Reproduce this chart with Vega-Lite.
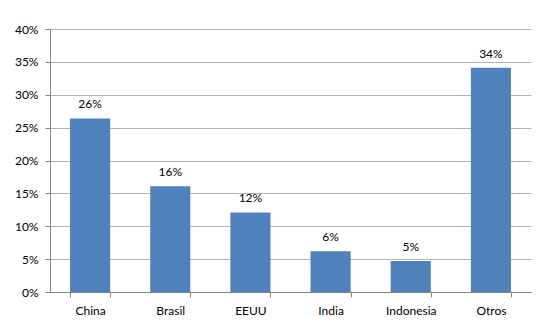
{
  "$schema": "https://vega.github.io/schema/vega-lite/v6.json",
  "width": 481,
  "height": 263,
  "autosize": "none",
  "padding": {"left": 50, "top": 29, "right": 7, "bottom": 30},
  "background": "white",
  "data": {
    "values": [
      {"pais": "China", "cuota": 0.264},
      {"pais": "Brasil", "cuota": 0.161},
      {"pais": "EEUU", "cuota": 0.121},
      {"pais": "India", "cuota": 0.062},
      {"pais": "Indonesia", "cuota": 0.047},
      {"pais": "Otros", "cuota": 0.341}
    ]
  },
  "encoding": {
    "x": {
      "field": "pais",
      "type": "nominal",
      "sort": null,
      "scale": {"paddingInner": 0.5, "paddingOuter": 0.25},
      "axis": {
        "title": null,
        "labelAngle": 0,
        "labelFont": "Lato",
        "labelFontSize": 12,
        "labelColor": "#000000",
        "labelPadding": 8,
        "tickBand": "extent",
        "tickSize": 5,
        "tickColor": "#868686",
        "domainColor": "#868686",
        "grid": false
      }
    },
    "y": {
      "field": "cuota",
      "type": "quantitative",
      "scale": {"domain": [0, 0.4], "nice": false},
      "axis": {
        "title": null,
        "format": ".0%",
        "values": [0, 0.05, 0.1, 0.15, 0.2, 0.25, 0.3, 0.35, 0.4],
        "labelFont": "Lato",
        "labelFontSize": 12,
        "labelColor": "#000000",
        "labelPadding": 7,
        "tickSize": 5,
        "tickColor": "#868686",
        "domainColor": "#868686",
        "gridColor": "#b3b3b3",
        "gridWidth": 1
      }
    }
  },
  "layer": [
    {
      "mark": {"type": "bar", "color": "#4F81BD"}
    },
    {
      "mark": {
        "type": "text",
        "baseline": "bottom",
        "dy": -7,
        "font": "Lato",
        "fontSize": 12,
        "color": "#000000"
      },
      "encoding": {
        "text": {"field": "cuota", "type": "quantitative", "format": ".0%"}
      }
    }
  ],
  "config": {
    "view": {"stroke": null}
  }
}
